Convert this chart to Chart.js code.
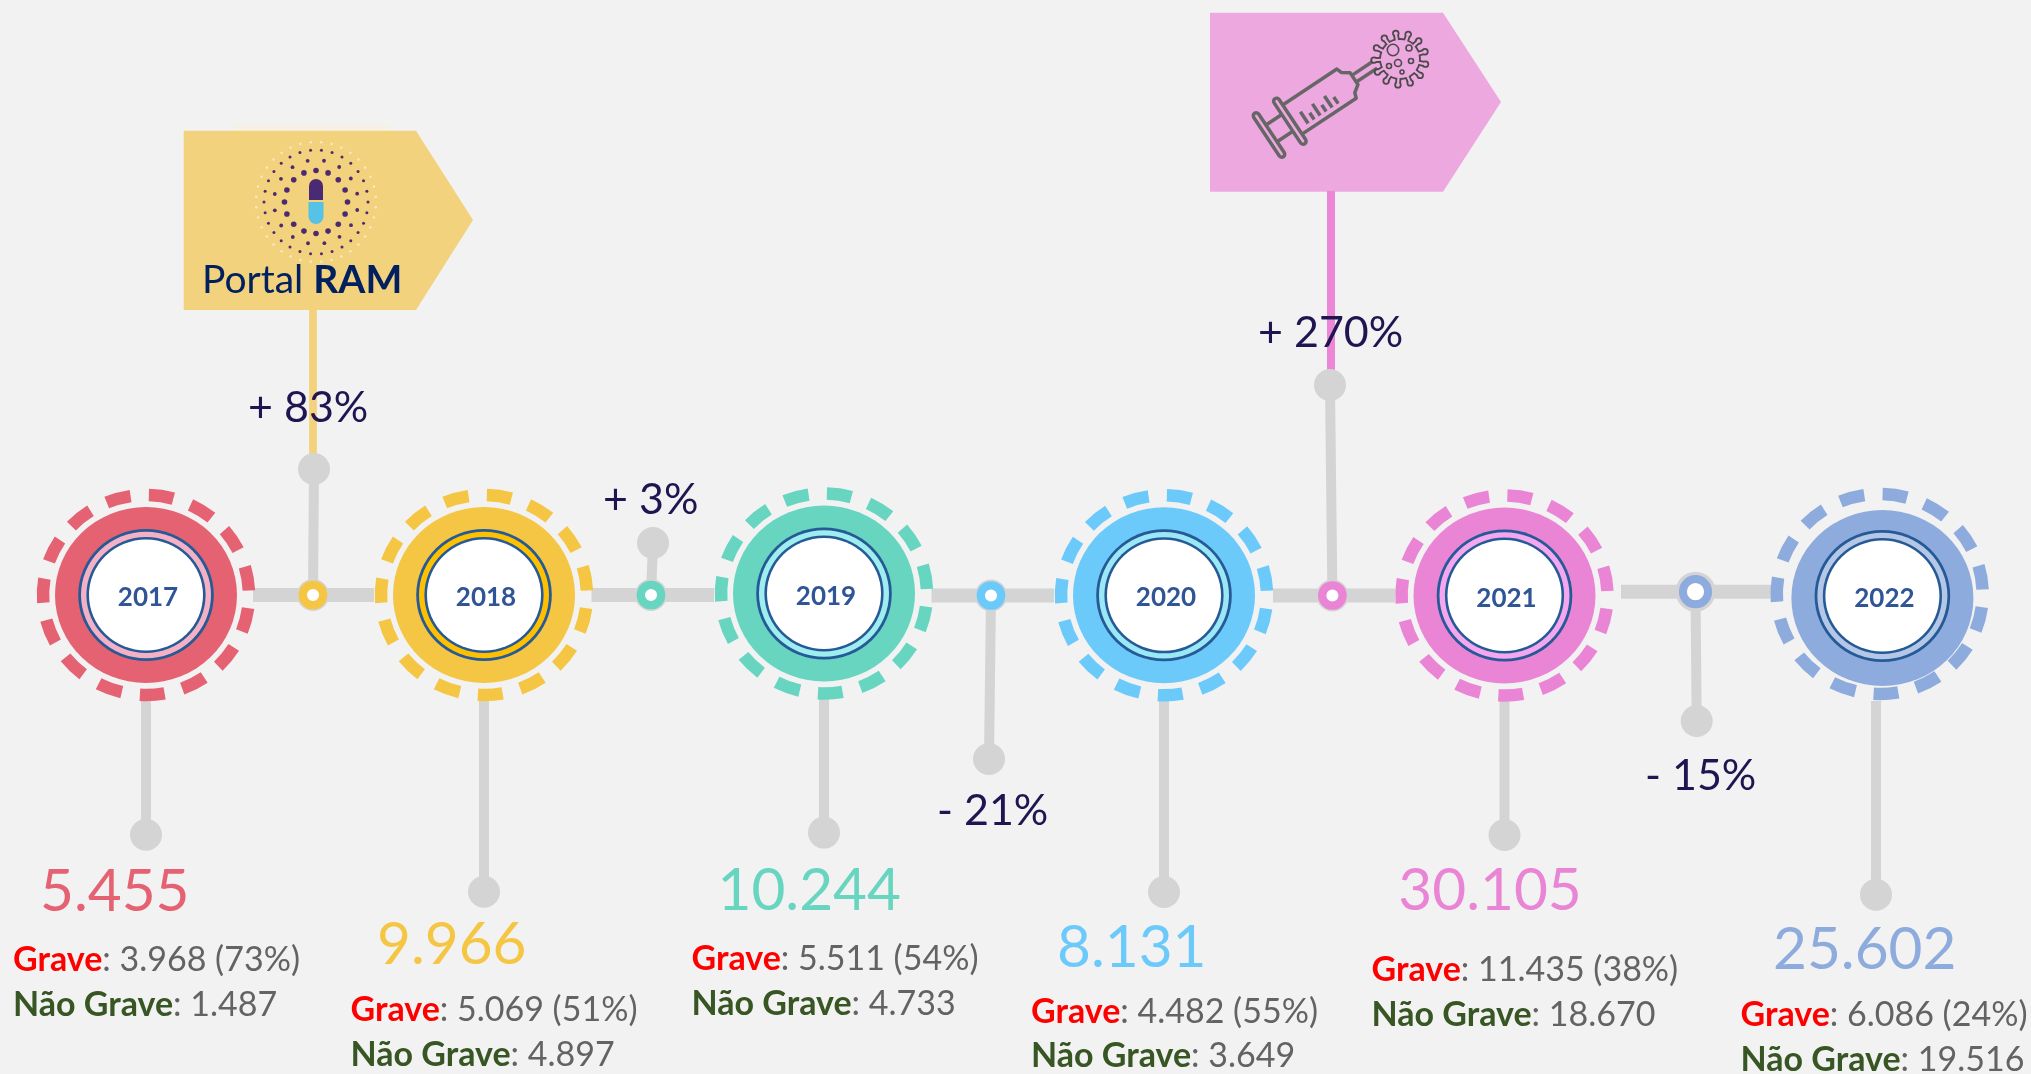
<!DOCTYPE html>
<html lang="pt">
<head>
    <meta charset="UTF-8">
    <title>Portal RAM - notificações por ano</title>
    <script src="https://cdn.jsdelivr.net/npm/chart.js"></script>
    <style>
        html, body { margin: 0; padding: 0; background: #f2f2f2; overflow: hidden; }
        canvas { display: block; }
    </style>
</head>
<body>
    <canvas id="chart" width="2031" height="1074"></canvas>

    <script>
        // valores
        const years = ['2017', '2018', '2019', '2020', '2021', '2022'];
        const totals = [5455, 9966, 10244, 8131, 30105, 25602];
        const grave = [3968, 5069, 5511, 4482, 11435, 6086];
        const gravePct = [73, 51, 54, 55, 38, 24];
        const naoGrave = [1487, 4897, 4733, 3649, 18670, 19516];
        const changes = [83, 3, -21, 270, -15];

        // posições dos anos (em px da figura)
        const nodeX = [146, 484, 824, 1164, 1504.5, 1882.4];
        const nodeY = [595, 595, 593.5, 595.3, 595.5, 598];
        const dashX = [146, 484, 824, 1164, 1504.5, 1879.7];
        const dashY = [595, 595, 593.5, 595.3, 595.5, 594];
        const innerY = [595, 595, 593.5, 595.3, 595.5, 596];
        const stemX = [146, 484, 824, 1164, 1504.5, 1876];
        const stemTop = [699, 699, 697, 698, 698, 701];
        const stemEnd = [834.7, 891.7, 832.6, 892, 835, 894.8];
        const totalX = [40, 377, 717.5, 1057, 1398.3, 1773];
        const totalY = [911, 963.6, 910, 966.7, 910, 968.6];
        const detailX = [13, 350.5, 691.5, 1031, 1371.5, 1740.5];
        const graveY = [970.7, 1020.5, 969.6, 1022.7, 981, 1025.7];
        const naoY = [1016, 1065.7, 1015, 1067.4, 1025.7, 1070.5];

        // posições das variações
        const changeX = [313, 651, 991, 1332.4, 1695.5];
        const changeY = [595, 595, 595.5, 595.5, 591.7];
        const changeDotX = [314, 653, 989, 1330, 1696.7];
        const changeDotY = [469, 543, 759, 385, 721];
        const barFrom = [253, 591.5, 931.5, 1273, 1621];
        const barTo = [374, 714, 1054, 1395, 1772.6];
        const changeLabelX = [248, 603, 937, 1258, 1645];
        const changeLabelY = [421.6, 513.6, 824.7, 347, 790];
        const haloSize = [16, 16, 16, 16, 20];
        const ringSize = [10.2, 10.2, 10.2, 10.2, 12.6];
        const ringWidth = [8.3, 8.3, 8.3, 8.3, 8];

        const mainColors = ['#e56273', '#f5c644', '#68d5c0', '#6ccafb', '#ea85d6', '#8eabdd'];
        const bandColors = ['#f4b1c6', '#ffc000', '#9eedef', '#9ae8f5', '#f4a6ee', '#b4c7e7'];
        const changeColors = mainColors.slice(1);
        const GRAY = '#d4d4d4';
        const NAVY = '#255a96';
        const PINK_BOX = '#eda8e0';

        const fmt = n => String(n).replace(/\B(?=(\d{3})+$)/g, '.');
        const fmtChange = n => (n < 0 ? '- ' : '+ ') + Math.abs(n) + '%';

        const segment = (from, to, color, width, order) => ({
            data: [{ x: from[0], y: from[1] }, { x: to[0], y: to[1] }],
            showLine: true,
            borderColor: color,
            borderWidth: width,
            pointRadius: 0,
            order
        });

        const datasets = [];
        // hastes coloridas até às caixas
        datasets.push(segment([313, 310], [313, 460], '#f3d27b', 7.7, 9));
        datasets.push(segment([1331, 191], [1331, 380], '#ec87d8', 8, 9));
        // barras horizontais e hastes cinzentas
        barFrom.forEach((from, i) => {
            datasets.push(segment([from, changeY[i]], [barTo[i], changeY[i]], GRAY, 14, 8));
            datasets.push(segment([changeDotX[i], changeDotY[i]], [changeX[i], changeY[i]], GRAY, 10, 8));
        });
        stemX.forEach((x, i) => {
            datasets.push(segment([x, stemTop[i]], [x, stemEnd[i]], GRAY, 10, 8));
        });
        // pontos terminais
        datasets.push({
            data: stemX.map((x, i) => ({ x, y: stemEnd[i] })).concat(changeDotX.map((x, i) => ({ x, y: changeDotY[i] }))),
            pointRadius: 16,
            pointBackgroundColor: GRAY,
            pointBorderWidth: 0,
            order: 7
        });
        // nós de variação
        datasets.push({
            data: changeX.map((x, i) => ({ x, y: changeY[i] })),
            pointRadius: haloSize,
            pointBackgroundColor: GRAY,
            pointBorderWidth: 0,
            order: 6
        });
        datasets.push({
            data: changeX.map((x, i) => ({ x, y: changeY[i] })),
            pointRadius: ringSize,
            pointBackgroundColor: '#ffffff',
            pointBorderColor: changeColors,
            pointBorderWidth: ringWidth,
            order: 5
        });
        // centros dos anos, desenhados depois pelo plugin
        const nodeIndex = datasets.length;
        datasets.push({
            data: nodeX.map((x, i) => ({ x, y: nodeY[i] })),
            pointRadius: 0,
            order: 4
        });

        function pill(ctx, x, y, w, h, r) {
            ctx.beginPath();
            ctx.roundRect(x, y, w, h, r);
        }

        function drawPortalIcon(ctx, cx, cy) {
            const rings = [[31.5, 16, 2.8, 0, '#4d2a6f'], [42, 16, 1.9, 11, '#4d2a6f'], [52, 30, 1.5, 0, '#4d2a6f'], [60, 36, 1.2, 5, '#f6ecc9']];
            rings.forEach(([r, n, size, off, color]) => {
                ctx.fillStyle = color;
                for (let k = 0; k < n; k++) {
                    const a = (k * 360 / n + off) * Math.PI / 180;
                    ctx.beginPath();
                    ctx.arc(cx + r * Math.cos(a), cy + r * Math.sin(a), size, 0, Math.PI * 2);
                    ctx.fill();
                }
            });
            ctx.fillStyle = '#4b2a75';
            pill(ctx, cx - 7, cy - 23, 14, 21, [7, 7, 0, 0]);
            ctx.fill();
            ctx.fillStyle = '#55c2e6';
            pill(ctx, cx - 7.5, cy, 15, 22, [0, 0, 7.5, 7.5]);
            ctx.fill();
        }

        function drawVirusShape(ctx, vx, vy, grow, color) {
            ctx.fillStyle = color;
            ctx.strokeStyle = color;
            ctx.lineWidth = 4 + grow * 2;
            ctx.beginPath();
            ctx.arc(vx, vy, 20 + grow, 0, Math.PI * 2);
            ctx.fill();
            for (let k = 0; k < 13; k++) {
                const a = k * 2 * Math.PI / 13 + 0.2;
                ctx.beginPath();
                ctx.moveTo(vx + 18 * Math.cos(a), vy + 18 * Math.sin(a));
                ctx.lineTo(vx + 26 * Math.cos(a), vy + 26 * Math.sin(a));
                ctx.stroke();
                ctx.beginPath();
                ctx.arc(vx + 26 * Math.cos(a), vy + 26 * Math.sin(a), 2.8 + grow, 0, Math.PI * 2);
                ctx.fill();
            }
        }

        function drawVaccineIcon(ctx, sx, sy, vx, vy) {
            ctx.save();
            ctx.translate(sx, sy);
            ctx.rotate(-33.5 * Math.PI / 180);
            ctx.strokeStyle = '#666666';
            ctx.lineWidth = 3.5;
            ctx.lineJoin = 'round';
            pill(ctx, -3, -26, 6, 52, 3);
            ctx.stroke();
            pill(ctx, 22, -27, 6, 54, 3);
            ctx.stroke();
            ctx.beginPath();
            ctx.moveTo(3, -10); ctx.lineTo(22, -10);
            ctx.moveTo(3, 10); ctx.lineTo(22, 10);
            ctx.moveTo(28, -17.5); ctx.lineTo(93, -17.5); ctx.lineTo(95, -12); ctx.lineTo(102, -7);
            ctx.lineTo(102, 7); ctx.lineTo(95, 12); ctx.lineTo(93, 17.5); ctx.lineTo(28, 17.5);
            ctx.moveTo(102, -4); ctx.lineTo(127, -4);
            ctx.moveTo(102, 4); ctx.lineTo(127, 4);
            for (let k = 0; k < 6; k++) {
                const u = 39 + k * 7.2;
                ctx.moveTo(u, k % 2 ? 4 : -2);
                ctx.lineTo(u, 12);
            }
            ctx.stroke();
            ctx.restore();

            // vírus: contorno obtido com forma escura por baixo e forma rosa por cima
            ctx.save();
            drawVirusShape(ctx, vx, vy, 0.9, '#4a4a4a');
            drawVirusShape(ctx, vx, vy, -0.9, PINK_BOX);
            ctx.strokeStyle = '#4a4a4a';
            ctx.lineWidth = 1.6;
            [[-7, -9, 5.7], [9, -11, 3], [-2, 4, 3.5], [11, 2, 2.5], [-11, 7, 2.5], [2, 13, 2]].forEach(([dx, dy, r]) => {
                ctx.beginPath();
                ctx.arc(vx + dx, vy + dy, r, 0, Math.PI * 2);
                ctx.stroke();
            });
            ctx.restore();
        }

        const boxes = {
            id: 'boxes',
            beforeDatasetsDraw(chart) {
                const { ctx, scales: { x, y } } = chart;
                const poly = (pts, color) => {
                    ctx.fillStyle = color;
                    ctx.beginPath();
                    pts.forEach(p => ctx.lineTo(x.getPixelForValue(p[0]), y.getPixelForValue(p[1])));
                    ctx.closePath();
                    ctx.fill();
                };
                ctx.save();
                poly([[233, 124], [390, 124], [390, 131], [233, 131]], '#f5f1e6');
                poly([[183.7, 130.7], [416, 130.7], [473, 220], [416, 310], [183.7, 310]], '#f2d27d');
                poly([[1210, 12.7], [1443, 12.7], [1501, 102], [1443, 191.7], [1210, 191.7]], PINK_BOX);
                drawPortalIcon(ctx, x.getPixelForValue(316), y.getPixelForValue(202));
                drawVaccineIcon(ctx, x.getPixelForValue(1269), y.getPixelForValue(135), x.getPixelForValue(1400), y.getPixelForValue(59));
                ctx.fillStyle = '#002060';
                ctx.textAlign = 'left';
                ctx.textBaseline = 'alphabetic';
                ctx.font = '39px Lato';
                const px = x.getPixelForValue(202), py = y.getPixelForValue(292.7);
                ctx.fillText('Portal ', px, py);
                const w = ctx.measureText('Portal ').width;
                ctx.font = 'bold 39px Lato';
                ctx.fillText('RAM', px + w, py);
                ctx.restore();
            }
        };

        const ellipse = (ctx, cx, cy, rx, ry, color) => {
            ctx.fillStyle = color;
            ctx.beginPath();
            ctx.ellipse(cx, cy, rx, ry, 0, 0, Math.PI * 2);
            ctx.fill();
        };

        const rings = {
            id: 'rings',
            afterDatasetsDraw(chart) {
                const { ctx, scales: { x, y } } = chart;
                ctx.save();
                chart.getDatasetMeta(nodeIndex).data.forEach((pt, i) => {
                    // anel tracejado: 15 traços
                    const dx = x.getPixelForValue(dashX[i]), dy = y.getPixelForValue(dashY[i]);
                    const iy = y.getPixelForValue(innerY[i]);
                    ctx.strokeStyle = mainColors[i];
                    ctx.lineWidth = 12.5;
                    ctx.lineCap = 'butt';
                    for (let k = 0; k < 15; k++) {
                        const mid = (8.5 + 24 * k - 90) * Math.PI / 180;
                        const half = 6.9 * Math.PI / 180;
                        ctx.beginPath();
                        ctx.ellipse(dx, dy, 103, 100, 0, mid - half, mid + half);
                        ctx.stroke();
                    }
                    ellipse(ctx, pt.x, pt.y, 91, 88, mainColors[i]);
                    ellipse(ctx, pt.x, iy, 67.8, 66, NAVY);
                    ellipse(ctx, pt.x, iy, 65, 63.2, bandColors[i]);
                    ellipse(ctx, pt.x, iy, 59.6, 58, NAVY);
                    ellipse(ctx, pt.x, iy, 57, 55.5, '#ffffff');
                    ctx.fillStyle = '#2f5597';
                    ctx.font = 'bold 26px Lato';
                    ctx.textAlign = 'center';
                    ctx.textBaseline = 'alphabetic';
                    ctx.fillText(years[i], pt.x + 2, iy + 11);
                });
                ctx.restore();
            }
        };

        const labels = {
            id: 'labels',
            afterDraw(chart) {
                const { ctx, scales: { x, y } } = chart;
                ctx.save();
                ctx.textAlign = 'left';
                ctx.textBaseline = 'alphabetic';
                const runs = (parts, px, py) => {
                    let cur = x.getPixelForValue(px);
                    parts.forEach(([text, font, color]) => {
                        ctx.font = font;
                        ctx.fillStyle = color;
                        ctx.fillText(text, cur, y.getPixelForValue(py));
                        cur += ctx.measureText(text).width;
                    });
                };
                const BOLD = 'bold 34px Lato', REG = '34px Lato', TXT = '#636363';
                years.forEach((yr, i) => {
                    runs([[fmt(totals[i]), '58.5px Lato', mainColors[i]]], totalX[i], totalY[i]);
                    runs([['Grave', BOLD, '#ff0000'], [': ' + fmt(grave[i]) + ' (' + gravePct[i] + '%)', REG, TXT]], detailX[i], graveY[i]);
                    runs([['Não Grave', BOLD, '#375623'], [': ' + fmt(naoGrave[i]), REG, TXT]], detailX[i], naoY[i]);
                });
                changes.forEach((c, i) => {
                    runs([[fmtChange(c), '43px Lato', '#201551']], changeLabelX[i], changeLabelY[i]);
                });
                ctx.restore();
            }
        };

        new Chart(document.getElementById('chart'), {
            type: 'scatter',
            data: { datasets },
            options: {
                responsive: false,
                animation: false,
                events: [],
                layout: { padding: 0, autoPadding: false },
                plugins: { legend: { display: false }, tooltip: { enabled: false } },
                scales: {
                    x: { type: 'linear', display: false, min: 0, max: 2031 },
                    y: { type: 'linear', display: false, min: 0, max: 1074, reverse: true }
                }
            },
            plugins: [boxes, rings, labels]
        });
    </script>
</body>
</html>
